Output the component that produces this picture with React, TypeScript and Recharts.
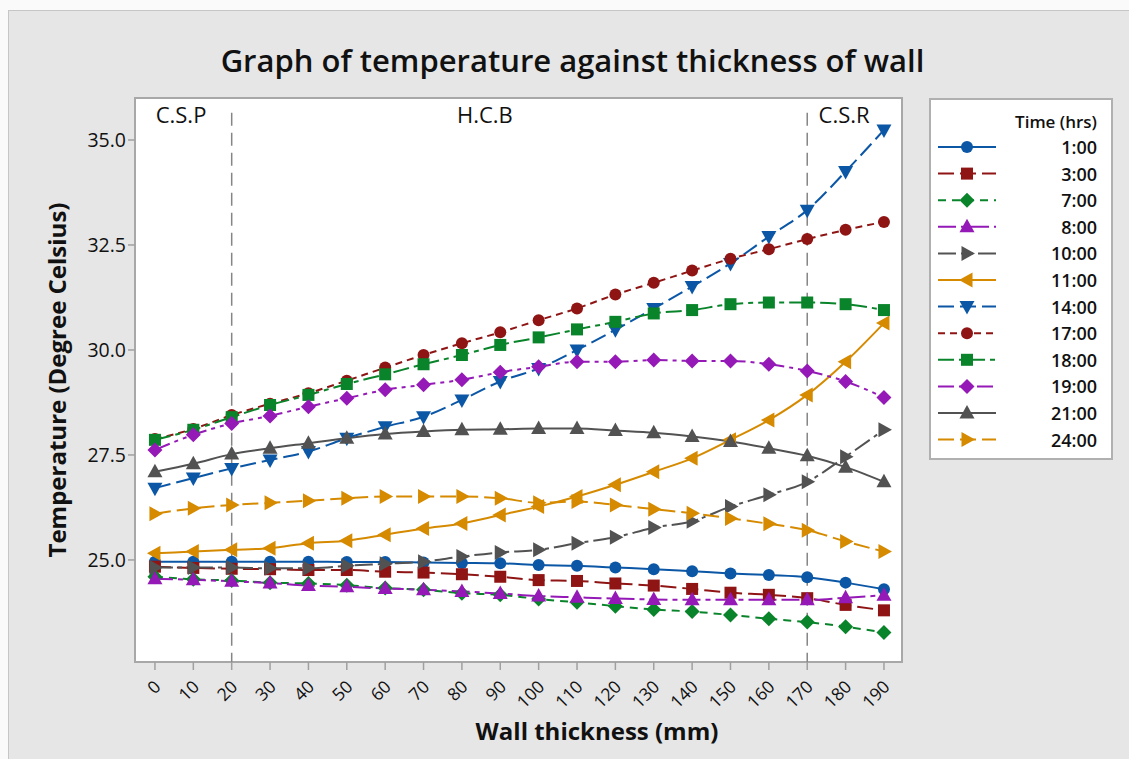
import React from "react";
import { LineChart, Line, XAxis, YAxis, ReferenceLine, ReferenceDot } from "recharts";

// wall thickness (mm)
const thickness = [0, 10, 20, 30, 40, 50, 60, 70, 80, 90, 100, 110, 120, 130, 140, 150, 160, 170, 180, 190];

// temperatures (deg C), one array per time of day
const t0100 = [24.96, 24.96, 24.96, 24.96, 24.96, 24.95, 24.95, 24.94, 24.93, 24.92, 24.88, 24.86, 24.82, 24.78, 24.73, 24.68, 24.64, 24.59, 24.46, 24.3];
const t0300 = [24.84, 24.81, 24.79, 24.78, 24.76, 24.76, 24.72, 24.7, 24.66, 24.6, 24.52, 24.5, 24.44, 24.39, 24.31, 24.22, 24.17, 24.09, 23.93, 23.8];
const t0700 = [24.6, 24.54, 24.51, 24.46, 24.44, 24.4, 24.33, 24.29, 24.21, 24.17, 24.07, 23.99, 23.9, 23.82, 23.77, 23.69, 23.6, 23.52, 23.41, 23.27];
const t0800 = [24.55, 24.53, 24.49, 24.45, 24.39, 24.36, 24.32, 24.29, 24.25, 24.2, 24.14, 24.11, 24.08, 24.06, 24.05, 24.05, 24.05, 24.05, 24.1, 24.16];
const t1000 = [24.82, 24.82, 24.82, 24.8, 24.8, 24.86, 24.91, 24.96, 25.08, 25.18, 25.24, 25.4, 25.54, 25.77, 25.92, 26.27, 26.55, 26.86, 27.46, 28.1];
const t1100 = [25.16, 25.2, 25.24, 25.28, 25.4, 25.46, 25.6, 25.75, 25.87, 26.07, 26.27, 26.51, 26.79, 27.1, 27.42, 27.86, 28.33, 28.93, 29.72, 30.64];
const t1400 = [26.71, 26.95, 27.18, 27.38, 27.58, 27.9, 28.17, 28.41, 28.81, 29.25, 29.56, 30.0, 30.48, 30.99, 31.51, 32.06, 32.7, 33.33, 34.25, 35.24];
const t1700 = [27.88, 28.12, 28.45, 28.72, 28.97, 29.27, 29.58, 29.88, 30.16, 30.42, 30.71, 30.99, 31.32, 31.6, 31.89, 32.17, 32.4, 32.64, 32.86, 33.05];
const t1800 = [27.86, 28.1, 28.4, 28.69, 28.93, 29.19, 29.42, 29.66, 29.88, 30.12, 30.3, 30.49, 30.67, 30.87, 30.95, 31.09, 31.13, 31.13, 31.09, 30.95];
const t1900 = [27.62, 27.98, 28.25, 28.43, 28.65, 28.85, 29.05, 29.17, 29.29, 29.47, 29.6, 29.72, 29.72, 29.76, 29.74, 29.74, 29.66, 29.5, 29.25, 28.87];
const t2100 = [27.1, 27.29, 27.52, 27.66, 27.78, 27.9, 28.0, 28.06, 28.1, 28.11, 28.13, 28.13, 28.08, 28.03, 27.94, 27.82, 27.66, 27.48, 27.21, 26.86];
const t2400 = [26.1, 26.23, 26.31, 26.36, 26.41, 26.47, 26.51, 26.51, 26.51, 26.47, 26.36, 26.39, 26.31, 26.21, 26.11, 25.99, 25.86, 25.71, 25.44, 25.2];

const yTicks = [25, 27.5, 30, 32.5, 35];
const boundaries = [20, 170];
const zones = [
  { name: "C.S.P", x: 6.8 },
  { name: "H.C.B", x: 86 },
  { name: "C.S.R", x: 179.6 },
];

const BLUE = "#0b57a6";
const RED = "#8f1515";
const GREEN = "#0a842b";
const PURPLE = "#9419b6";
const GREY = "#525252";
const ORANGE = "#d58a00";

const series = [
  { name: "1:00", values: t0100, color: BLUE, shape: "circle", dash: undefined },
  { name: "3:00", values: t0300, color: RED, shape: "square", dash: "16 6" },
  { name: "7:00", values: t0700, color: GREEN, shape: "diamond", dash: "8 6" },
  { name: "8:00", values: t0800, color: PURPLE, shape: "up", dash: "18 5 5 5" },
  { name: "10:00", values: t1000, color: GREY, shape: "right", dash: "18 5 4 4 4 5" },
  { name: "11:00", values: t1100, color: ORANGE, shape: "left", dash: undefined },
  { name: "14:00", values: t1400, color: BLUE, shape: "down", dash: "16 6" },
  { name: "17:00", values: t1700, color: RED, shape: "circle", dash: "7 5" },
  { name: "18:00", values: t1800, color: GREEN, shape: "square", dash: "16 5 5 5" },
  { name: "19:00", values: t1900, color: PURPLE, shape: "diamond", dash: "16 5 4 5 4 5" },
  { name: "21:00", values: t2100, color: GREY, shape: "up", dash: undefined },
  { name: "24:00", values: t2400, color: ORANGE, shape: "right", dash: "16 6" },
];

const data = thickness.map((x, i) => {
  const row: Record<string, number> = { x };
  series.forEach((s) => {
    row[s.name] = s.values[i];
  });
  return row;
});

const FONT = "'Open Sans', 'Noto Sans', sans-serif";

function Marker({ cx, cy, shape, color }: { cx?: number; cy?: number; shape: string; color: string }) {
  if (cx == null || cy == null) return null;
  switch (shape) {
    case "circle":
      return <circle cx={cx} cy={cy} r={6} fill={color} />;
    case "square":
      return <rect x={cx - 6} y={cy - 6} width={12} height={12} fill={color} />;
    case "diamond":
      return <polygon points={`${cx},${cy - 7.5} ${cx + 7.5},${cy} ${cx},${cy + 7.5} ${cx - 7.5},${cy}`} fill={color} />;
    case "up":
      return <polygon points={`${cx},${cy - 8} ${cx + 7.5},${cy + 5.5} ${cx - 7.5},${cy + 5.5}`} fill={color} />;
    case "down":
      return <polygon points={`${cx},${cy + 8} ${cx + 7.5},${cy - 5.5} ${cx - 7.5},${cy - 5.5}`} fill={color} />;
    case "right":
      return <polygon points={`${cx + 8},${cy} ${cx - 5.5},${cy - 7.5} ${cx - 5.5},${cy + 7.5}`} fill={color} />;
    case "left":
      return <polygon points={`${cx - 8},${cy} ${cx + 5.5},${cy - 7.5} ${cx + 5.5},${cy + 7.5}`} fill={color} />;
    default:
      return null;
  }
}

const XTick = (props: any) => {
  const { x, y, payload } = props;
  const px = x + 2;
  const py = y + 11;
  return (
    <text
      x={px}
      y={py}
      transform={`rotate(-45 ${px} ${py})`}
      textAnchor="end"
      dominantBaseline="central"
      fontSize={17.5}
      fontWeight={500}
      fontFamily={FONT}
      fill="#111"
    >
      {payload.value}
    </text>
  );
};

const ZoneLabel = (props: any) => {
  const { viewBox, value } = props;
  return (
    <text x={viewBox.x} y={viewBox.y} textAnchor="middle" dominantBaseline="central" fontSize={22} fontFamily={FONT} fill="#111">
      {value}
    </text>
  );
};

const Legend = () => (
  <div
    style={{
      position: "absolute",
      left: 929,
      top: 98,
      width: 184,
      height: 362,
      boxSizing: "border-box",
      background: "#fff",
      border: "2px solid #b0b0b0",
      fontFamily: FONT,
    }}
  >
    <svg width={180} height={358}>
      <text x={166} y={21} textAnchor="end" dominantBaseline="central" fontSize={17} fontWeight={600} fill="#111">
        Time (hrs)
      </text>
      {series.map((s, i) => {
        const cy = 47 + i * 26.6;
        return (
          <g key={s.name}>
            <line x1={7} x2={65} y1={cy} y2={cy} stroke={s.color} strokeWidth={2} strokeDasharray={s.dash} />
            <Marker cx={36} cy={cy} shape={s.shape} color={s.color} />
            <text x={166} y={cy} textAnchor="end" dominantBaseline="central" fontSize={18} fontWeight={600} fill="#111">
              {s.name}
            </text>
          </g>
        );
      })}
    </svg>
  </div>
);

export default function App() {
  return (
    <div style={{ position: "absolute", left: 0, top: 0, width: 1129, height: 759, background: "#fafafa", overflow: "hidden" }}>
      <div
        style={{
          position: "absolute",
          left: 8,
          top: 10,
          width: 1125,
          height: 753,
          boxSizing: "border-box",
          background: "#e6e6e6",
          border: "1px solid #c6c6c6",
        }}
      />
      <div
        style={{
          position: "absolute",
          left: 0,
          top: 40,
          width: 1145,
          textAlign: "center",
          fontFamily: FONT,
          fontSize: 31,
          fontWeight: 600,
          color: "#111",
          lineHeight: "40px",
        }}
      >
        Graph of temperature against thickness of wall
      </div>
      <div
        style={{
          position: "absolute",
          left: 134,
          top: 97,
          width: 769,
          height: 566,
          boxSizing: "border-box",
          background: "#fff",
          border: "2px solid #a8a8a8",
        }}
      />
      <div
        style={{
          position: "absolute",
          left: 0,
          top: 716,
          width: 1194,
          textAlign: "center",
          fontFamily: FONT,
          fontSize: 24,
          fontWeight: 700,
          color: "#111",
          lineHeight: "30px",
        }}
      >
        Wall thickness (mm)
      </div>
      <div
        style={{
          position: "absolute",
          left: 57,
          top: 380,
          transform: "translate(-50%, -50%) rotate(-90deg)",
          whiteSpace: "nowrap",
          fontFamily: FONT,
          fontSize: 24,
          fontWeight: 700,
          color: "#111",
          lineHeight: "30px",
        }}
      >
        Temperature (Degree Celsius)
      </div>
      <div style={{ position: "absolute", left: 0, top: 0 }}>
        <LineChart width={1129} height={759} data={data} margin={{ top: 98, right: 227, bottom: 37, left: 75 }}>
          <XAxis
            type="number"
            dataKey="x"
            domain={[-5.2, 194.7]}
            ticks={thickness}
            interval={0}
            allowDataOverflow
            axisLine={false}
            tickLine={{ stroke: "#a0a0a0", strokeWidth: 1.5 }}
            tickSize={8}
            height={60}
            tick={<XTick />}
          />
          <YAxis
            type="number"
            domain={[22.57, 36.0]}
            ticks={yTicks}
            allowDataOverflow
            axisLine={false}
            tickLine={{ stroke: "#a0a0a0", strokeWidth: 1.5 }}
            tickSize={7}
            width={60}
            tickFormatter={(v: number) => v.toFixed(1)}
            tick={{ fontSize: 19.5, fontWeight: 500, fontFamily: FONT, fill: "#111" }}
          />
          {boundaries.map((b) => (
            <ReferenceLine
              key={b}
              segment={[
                { x: b, y: 35.65 },
                { x: b, y: 22.57 },
              ]}
              stroke="#858585"
              strokeWidth={1.5}
              strokeDasharray="13 7"
            />
          ))}
          {zones.map((z) => (
            <ReferenceDot key={z.name} x={z.x} y={35.62} r={0} fill="none" stroke="none" label={<ZoneLabel value={z.name} />} />
          ))}
          {series.map((s) => (
            <Line
              key={s.name}
              type="monotone"
              dataKey={s.name}
              stroke={s.color}
              strokeWidth={2}
              strokeDasharray={s.dash}
              isAnimationActive={false}
              dot={(p: any) => <Marker key={`${s.name}-${p.index}`} cx={p.cx} cy={p.cy} shape={s.shape} color={s.color} />}
              activeDot={false}
            />
          ))}
        </LineChart>
      </div>
      <Legend />
    </div>
  );
}
